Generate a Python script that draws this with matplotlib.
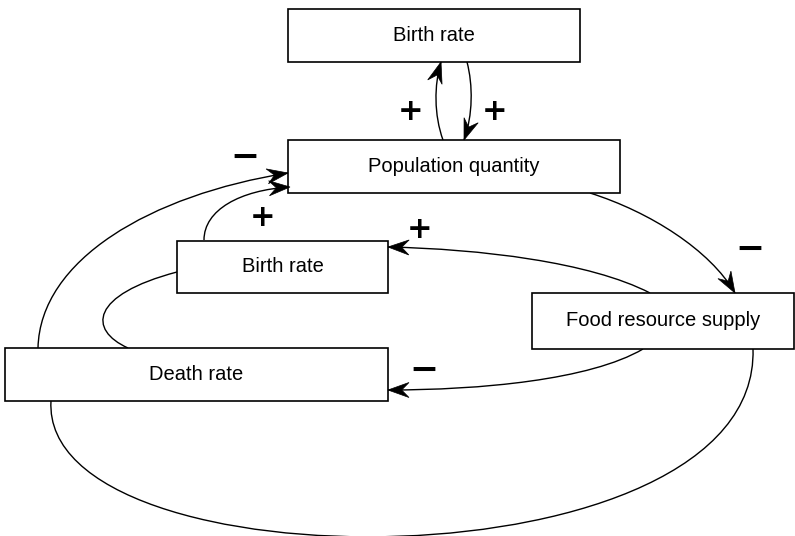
import numpy as np
import matplotlib.pyplot as plt
from matplotlib.path import Path
from matplotlib.patches import PathPatch, Rectangle, Polygon

# node labels and their boxes (x0, y0, x1, y1) in pixel coords
labels = ["Birth rate", "Population quantity", "Birth rate", "Food resource supply", "Death rate"]
boxes = [(288, 9, 580, 62), (288, 140, 620, 193), (177, 241, 388, 293),
         (532, 293, 794, 349), (5, 348, 388, 401)]

# link polarity signs
signs = ["+", "+", "−", "+", "+", "−", "−"]
sign_pos = [(411, 111), (495, 111), (245, 157), (263, 217), (420, 229), (750, 249), (424, 370)]

# cubic bezier links: start, ctrl1, ctrl2, end, arrow?
links = [
    [(443, 140), (434, 115), (434, 85), (441, 62), True],
    [(467, 62), (473, 85), (473, 115), (464, 140), True],
    [(38, 348), (40, 260), (150, 195), (288, 173), True],
    [(204, 240), (204, 210), (240, 190), (290, 187), True],
    [(590, 193), (650, 212), (710, 250), (735, 293), True],
    [(650, 293), (590, 262), (480, 249), (388, 247), True],
    [(643, 349), (590, 380), (480, 390), (388, 390), True],
    [(177, 272), (90, 295), (88, 330), (128, 348), False],
    [(753, 349), (760, 590), (40, 590), (51, 401), False],
]

fig = plt.figure(figsize=(7.95, 5.36), dpi=100)
ax = fig.add_axes([0, 0, 1, 1])
ax.set_xlim(0, 795)
ax.set_ylim(536, 0)
ax.axis("off")

for (x0, y0, x1, y1), lab in zip(boxes, labels):
    ax.add_patch(Rectangle((x0, y0), x1 - x0, y1 - y0, fill=True, fc="white",
                           ec="black", lw=1.2, zorder=3))
    ax.text((x0 + x1) / 2, (y0 + y1) / 2, lab, ha="center", va="center",
            fontsize=14.5, family="Liberation Sans", zorder=4)


def arrow_head(tip, back, L=21, W=7.5):
    tip = np.array(tip, float)
    u = tip - np.array(back, float)
    u /= np.linalg.norm(u)
    n = np.array([-u[1], u[0]])
    pts = [tip, tip - L * u + W * n, tip - 0.65 * L * u, tip - L * u - W * n]
    ax.add_patch(Polygon(pts, closed=True, fc="black", ec="black", lw=0.5, zorder=5))


for p0, c1, c2, p1, arr in links:
    path = Path([p0, c1, c2, p1], [Path.MOVETO, Path.CURVE4, Path.CURVE4, Path.CURVE4])
    ax.add_patch(PathPatch(path, fc="none", ec="black", lw=1.0, zorder=2))
    if arr:
        arrow_head(p1, c2)

for s, (x, y) in zip(signs, sign_pos):
    ax.text(x, y, s, ha="center", va="center", fontsize=22 if s == "+" else 25,
            fontweight="bold", family="DejaVu Sans", zorder=6)

fig.savefig("out.png", dpi=100)
